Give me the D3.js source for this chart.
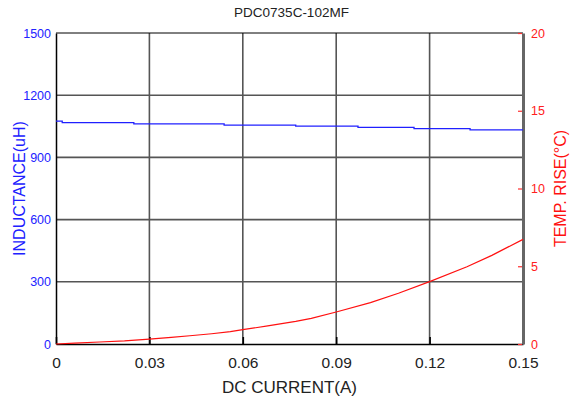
<!DOCTYPE html>
<html>
<head>
<meta charset="utf-8">
<script src="https://cdn.jsdelivr.net/npm/d3@7"></script>
<style>
  body { margin: 0; background: #fff; }
  text { font-family: "Liberation Sans", Arial, sans-serif; }
</style>
</head>
<body>
<div id="chart"></div>
<script>
// Setting the SVG perimeter
let svgWidth = 570;
let svgHeight = 400;

let margin = { top: 33, right: 47, bottom: 56, left: 56 };
let width = svgWidth - margin.left - margin.right;
let height = svgHeight - margin.top - margin.bottom;

// Data
let xTicks = [0, 0.03, 0.06, 0.09, 0.12, 0.15];
let leftTicks = [0, 300, 600, 900, 1200, 1500];
let rightTicks = [0, 5, 10, 15, 20];

// inductance (step curve)
let indCurrent = [0, 0.002, 0.025, 0.054, 0.077, 0.097, 0.115, 0.133, 0.15];
let inductance = [1075, 1068, 1062, 1056, 1051, 1045, 1039, 1033, 1033];

// temperature rise
let tempCurrent = [0, 0.006, 0.014, 0.022, 0.030, 0.037, 0.043, 0.050, 0.056, 0.060, 0.068, 0.077, 0.082, 0.090, 0.101, 0.110, 0.120, 0.132, 0.140, 0.150];
let tempRise = [0, 0.06, 0.13, 0.20, 0.31, 0.42, 0.53, 0.66, 0.79, 0.92, 1.16, 1.45, 1.65, 2.06, 2.66, 3.26, 4.01, 4.97, 5.70, 6.73];

let svg = d3.select('#chart')
    .append('svg')
    .attr('width', svgWidth)
    .attr('height', svgHeight);

let chartGroup = svg.append('g')
    .attr('transform', `translate(${margin.left}, ${margin.top})`);

let x = d3.scaleLinear().domain([0, 0.15]).range([0, width]);
let yL = d3.scaleLinear().domain([0, 1500]).range([height, 0]);
let yR = d3.scaleLinear().domain([0, 20]).range([height, 0]);

// grid lines
chartGroup.append('g')
    .selectAll('line.vg')
    .data(xTicks.slice(1, -1))
    .enter()
    .append('line')
    .attr('x1', d => x(d)).attr('x2', d => x(d))
    .attr('y1', 0).attr('y2', height)
    .attr('stroke', '#555').attr('stroke-width', 1.6);

chartGroup.append('g')
    .selectAll('line.hg')
    .data(leftTicks.slice(1, -1))
    .enter()
    .append('line')
    .attr('x1', 0).attr('x2', width)
    .attr('y1', d => yL(d)).attr('y2', d => yL(d))
    .attr('stroke', '#555').attr('stroke-width', 1.6);

// frame
chartGroup.append('line')
    .attr('x1', 0).attr('x2', width).attr('y1', 0).attr('y2', 0)
    .attr('stroke', '#000').attr('stroke-width', 1);

// bottom axis
let bottomAxis = d3.axisBottom(x).tickValues(xTicks)
    .tickFormat(d => d === 0 ? '0' : d3.format('.2f')(d))
    .tickSize(7).tickSizeOuter(0);
let xAxis = chartGroup.append('g')
    .attr('transform', `translate(0, ${height})`)
    .call(bottomAxis);
xAxis.select('.domain').attr('stroke', '#000').attr('stroke-width', 1.5);
xAxis.selectAll('.tick line').attr('y2', -7).attr('stroke', '#000').attr('stroke-width', 1.6);
xAxis.selectAll('.tick text')
    .attr('y', 13).attr('dy', '0.71em')
    .attr('font-size', 15.5).attr('fill', '#222');

// left axis
let leftAxis = d3.axisLeft(yL).tickValues(leftTicks).tickFormat(d3.format('d'))
    .tickSize(0).tickPadding(5);
let lAxis = chartGroup.append('g').call(leftAxis);
lAxis.select('.domain').attr('stroke', '#000').attr('stroke-width', 1.5);
lAxis.selectAll('.tick text').attr('font-size', 12.5).attr('fill', '#2222ff');

// right axis
let rightAxis = d3.axisRight(yR).tickValues(rightTicks).tickSize(0).tickPadding(8);
let rAxis = chartGroup.append('g')
    .attr('transform', `translate(${width}, 0)`)
    .call(rightAxis);
rAxis.select('.domain').attr('stroke', '#666').attr('stroke-width', 3);
rAxis.selectAll('.tick text').attr('font-size', 12.5).attr('fill', '#ff2020');
rAxis.selectAll('.tick')
    .append('line')
    .attr('x1', -5).attr('x2', -1)
    .attr('stroke', '#ff3030').attr('stroke-width', 1.2);

// inductance line
let indLine = d3.line()
    .x(d => x(d[0]))
    .y(d => yL(d[1]))
    .curve(d3.curveStepAfter);
chartGroup.append('path')
    .datum(d3.zip(indCurrent, inductance))
    .attr('d', indLine)
    .attr('fill', 'none')
    .attr('stroke', '#2020ff')
    .attr('stroke-width', 1.3);

// temperature line
let tempLine = d3.line()
    .x(d => x(d[0]))
    .y(d => yR(d[1]));
chartGroup.append('path')
    .datum(d3.zip(tempCurrent, tempRise))
    .attr('d', tempLine)
    .attr('fill', 'none')
    .attr('stroke', '#ff1010')
    .attr('stroke-width', 1.2);

// title
svg.append('text')
    .attr('x', margin.left + width / 2 + 2)
    .attr('y', 17)
    .attr('text-anchor', 'middle')
    .attr('font-size', 13.5)
    .attr('fill', '#222')
    .text('PDC0735C-102MF');

// x label
svg.append('text')
    .attr('x', margin.left + width / 2)
    .attr('y', 393)
    .attr('text-anchor', 'middle')
    .attr('font-size', 17)
    .attr('fill', '#222')
    .text('DC CURRENT(A)');

// left label
svg.append('text')
    .attr('transform', `translate(25, ${margin.top + height / 2}) rotate(-90)`)
    .attr('text-anchor', 'middle')
    .attr('font-size', 16)
    .attr('fill', '#2020ff')
    .text('INDUCTANCE(uH)');

// right label
svg.append('text')
    .attr('transform', `translate(566, ${margin.top + height / 2}) rotate(-90)`)
    .attr('text-anchor', 'middle')
    .attr('font-size', 16)
    .attr('fill', '#ff1010')
    .text('TEMP. RISE(°C)');
</script>
</body>
</html>
